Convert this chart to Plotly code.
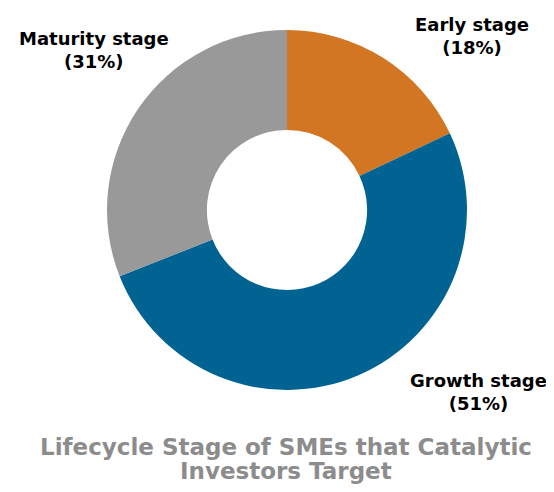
import plotly.graph_objects as go

labels = ["Early stage", "Growth stage", "Maturity stage"]
values = [18, 51, 31]
colors = ["#D27623", "#006391", "#999999"]
title_lines = ["Lifecycle Stage of SMEs that Catalytic", "Investors Target"]

W, H = 554, 492

fig = go.Figure()
fig.add_trace(go.Pie(
    labels=labels, values=values, hole=0.445, sort=False, direction="clockwise",
    rotation=0, marker=dict(colors=colors, line=dict(width=0)),
    textinfo="none", hoverinfo="label+percent", showlegend=False,
    domain=dict(x=[99 / W, 459 / W], y=[1 - 382 / H, 1 - 22 / H]),
))

label_pos = {"Early stage": (464, 36), "Growth stage": (470, 392), "Maturity stage": (86, 50)}
for lab, v in zip(labels, values):
    x, y = label_pos[lab]
    fig.add_annotation(
        x=x / W, y=1 - (y - 8) / H, xref="paper", yref="paper", showarrow=False,
        text=f"{lab}<br>({v}%)", align="center",
        font=dict(family="DejaVu Sans", size=18, color="#000000", weight="bold"),
        xanchor="center", yanchor="middle",
    )

for i, line in enumerate(title_lines):
    fig.add_annotation(
        x=278 / W, y=1 - (439 + 24 * i) / H, xref="paper", yref="paper", showarrow=False,
        text=line, align="center",
        font=dict(family="DejaVu Sans", size=23, color="#8C8C8C", weight="bold"),
        xanchor="center", yanchor="middle",
    )

fig.update_layout(
    width=W, height=H, margin=dict(l=0, r=0, t=0, b=0),
    paper_bgcolor="white", plot_bgcolor="white",
)
fig.write_html("out.html")
